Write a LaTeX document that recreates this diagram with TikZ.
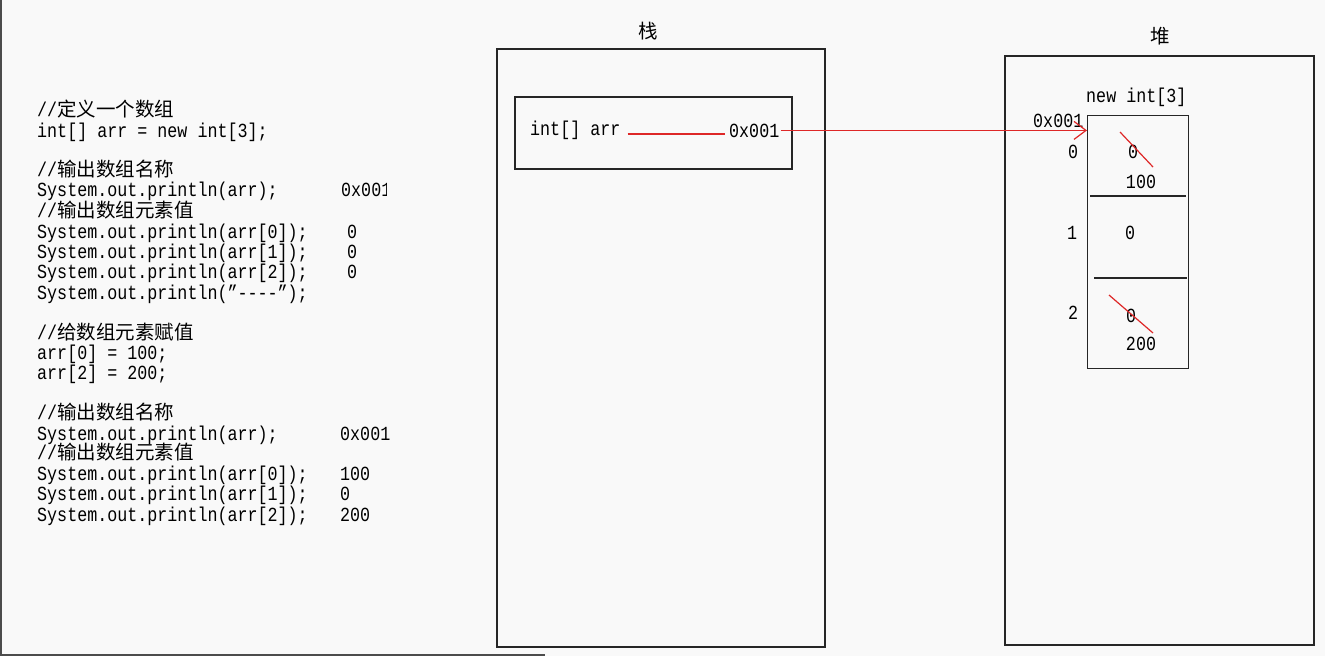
\documentclass[tikz,border=0pt]{standalone}
\usepackage{fontspec}
\newfontfamily\codefont[FakeStretch=0.835]{Liberation Mono}
\newfontfamily\cjk{Noto Sans CJK SC}
\usetikzlibrary{arrows.meta}
\newcommand\cfs{\codefont\fontsize{20}{20}\selectfont}
\newcommand\zh[1]{{\cjk\fontsize{19.5}{20}\selectfont #1}}
\definecolor{bgc}{RGB}{249,249,249}
\definecolor{penred}{RGB}{222,40,40}
\begin{document}
\begin{tikzpicture}[x=1pt,y=-1pt,
  code/.style={anchor=base west, inner sep=0pt, font=\cfs},
  lbl/.style={anchor=center, inner sep=0pt, font=\cfs},
  title/.style={anchor=center, inner sep=0pt},
  box/.style={draw=black!85, line width=1.3pt},
  penline/.style={draw=penred, line width=1.2pt},
  penarrow/.style={draw=penred, line width=1.2pt, -{Straight Barb[length=12pt,width=18pt]}}]
\fill[bgc] (0,0) rectangle (1325,656);
\useasboundingbox (0,0) rectangle (1325,656);
% window frame edges
\draw[black!70, line width=2pt] (1,0) -- (1,656);
\draw[black!70, line width=2pt] (0,655) -- (545,655);

% ---------- code ----------
\node[code] (c1) at (37,116) {//\zh{定义一个数组}};
\node[code] (c2) at (37,137) {int[] arr = new int[3];};
\node[code] (c3) at (37,176) {//\zh{输出数组名称}};
\node[code] (c4) at (37,196) {System.out.println(arr);};
\begin{scope}
  \clip (330,170) rectangle (386,205);
  \node[code] (o1) at (341,196) {0x001};
\end{scope}
\node[code] (c5) at (37,217) {//\zh{输出数组元素值}};
\node[code] (c6) at (37,238) {System.out.println(arr[0]);};
\node[code] (o2) at (347,238) {0};
\node[code] (c7) at (37,258) {System.out.println(arr[1]);};
\node[code] (o3) at (347,258) {0};
\node[code] (c8) at (37,278) {System.out.println(arr[2]);};
\node[code] (o4) at (347,278) {0};
\node[code] (c9) at (37,299) {System.out.println(”----”);};

\node[code] (c10) at (37,339) {//\zh{给数组元素赋值}};
\node[code] (c11) at (37,359) {arr[0] = 100;};
\node[code] (c12) at (37,379) {arr[2] = 200;};

\node[code] (c13) at (37,419) {//\zh{输出数组名称}};
\node[code] (c14) at (37,440) {System.out.println(arr);};
\node[code] (o5) at (340,440) {0x001};
\node[code] (c15) at (37,459) {//\zh{输出数组元素值}};
\node[code] (c16) at (37,480) {System.out.println(arr[0]);};
\node[code] (o6) at (340,480) {100};
\node[code] (c17) at (37,500) {System.out.println(arr[1]);};
\node[code] (o7) at (340,500) {0};
\node[code] (c18) at (37,521) {System.out.println(arr[2]);};
\node[code] (o8) at (340,521) {200};

% ---------- stack ----------
\node[title] (stitle) at (648,31) {\zh{栈}};
\draw[box] (497,49) rectangle (825,647);
\draw[box] (515,97) rectangle (792,169);
\node[code] (var) at (530,135) {int[] arr};
\node[code] (ptr) at (729,137) {0x001};

% ---------- heap ----------
\node[title] (htitle) at (1160,36) {\zh{堆}};
\draw[box] (1005,56) rectangle (1314,645);
\node[code] (newint) at (1086,102) {new int[3]};
\node[box, draw, minimum width=101pt, minimum height=253pt, inner sep=0pt, anchor=north west] (arr) at (1087,115) {};
\draw[black!85, line width=1.3pt] (1090,196) -- (1186,196);
\draw[black!85, line width=1.3pt] (1094,278) -- (1187,278);
\node[code] (haddr) at (1033,127) {0x001};
\node[lbl] (i0) at (1073,152) {0};
\node[lbl] (i1) at (1072,233) {1};
\node[lbl] (i2) at (1073,313) {2};
\node[lbl] (v0) at (1133,152) {0};
\node[lbl] (v0n) at (1141,182) {100};
\node[lbl] (v1) at (1130,233) {0};
\node[lbl] (v2) at (1131,316) {0};
\node[lbl] (v2n) at (1141,344) {200};
\draw[penline] (1120,132) -- (1153,167);
\draw[penline] (1109,295) -- (1153,333);

% ---------- connectors ----------
\draw[penline] ([xshift=7pt,yshift=1pt]var.base east) -- ([xshift=-4pt,yshift=1pt]var.base east -| ptr.west);
\draw[penarrow] ([xshift=1pt]ptr.east) -- (ptr.east -| arr.west);
\end{tikzpicture}
\end{document}
